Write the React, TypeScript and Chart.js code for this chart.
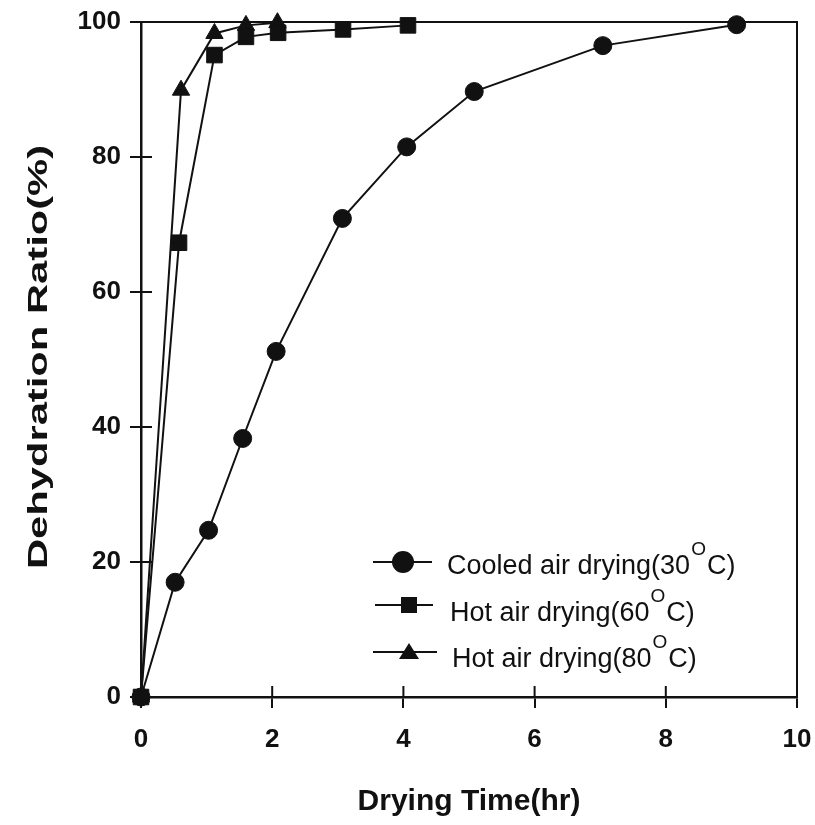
import React, { useEffect, useRef } from "react";
import { Chart, registerables } from "chart.js";

Chart.register(...registerables);

const cooledX = [0, 0.52, 1.03, 1.55, 2.06, 3.07, 4.05, 5.08, 7.04, 9.08];
const cooledY = [0, 17.0, 24.7, 38.3, 51.2, 70.9, 81.5, 89.7, 96.5, 99.6];
const hot60X = [0, 0.58, 1.12, 1.6, 2.09, 3.08, 4.07];
const hot60Y = [0, 67.3, 95.1, 97.8, 98.4, 98.9, 99.5];
const hot80X = [0, 0.61, 1.12, 1.6, 2.08];
const hot80Y = [0, 89.9, 98.3, 99.5, 99.9];

const legendNames = ["Cooled air drying(", "Hot air drying(", "Hot air drying("];
const legendTemps = ["30", "60", "80"];
const xTickValues = [0, 2, 4, 6, 8, 10];
const yTickValues = [0, 20, 40, 60, 80, 100];
const xTitle = "Drying Time(hr)";
const yTitle = "Dehydration Ratio(%)";

const FONT = '"Liberation Sans", Arial, sans-serif';
const INK = "#111";

function pts(xs: number[], ys: number[]) {
  return xs.map((x, i) => ({ x, y: ys[i] }));
}

const decorPlugin = {
  id: "decor",
  beforeDatasetsDraw(chart: any) {
    const { ctx, chartArea: ca, scales } = chart;
    ctx.save();
    ctx.strokeStyle = INK;
    ctx.lineWidth = 2;
    ctx.beginPath();
    yTickValues.forEach((v) => {
      const py = scales.y.getPixelForValue(v);
      ctx.moveTo(ca.left, py);
      ctx.lineTo(ca.left + 11, py);
    });
    xTickValues.forEach((v) => {
      const px = scales.x.getPixelForValue(v);
      ctx.moveTo(px, ca.bottom);
      ctx.lineTo(px, ca.bottom - 11);
    });
    ctx.moveTo(ca.left, ca.top);
    ctx.lineTo(ca.right, ca.top);
    ctx.lineTo(ca.right, ca.bottom);
    ctx.stroke();
    ctx.restore();
  },
  afterDraw(chart: any) {
    const { ctx, chartArea: ca } = chart;
    ctx.save();
    ctx.fillStyle = INK;
    ctx.font = `bold 30px ${FONT}`;
    ctx.textAlign = "center";
    ctx.textBaseline = "alphabetic";
    ctx.fillText(xTitle, (ca.left + ca.right) / 2, 810);
    ctx.save();
    ctx.translate(47, 357);
    ctx.rotate(-Math.PI / 2);
    ctx.scale(1.49, 1);
    ctx.font = `bold 28px ${FONT}`;
    ctx.fillText(yTitle, 0, 0);
    ctx.restore();

    const rows = [
      { y: 562, x1: 373, x2: 432, mx: 403, tx: 447, tb: 574, style: "circle" },
      { y: 605, x1: 375, x2: 433, mx: 409, tx: 450, tb: 621, style: "rect" },
      { y: 652, x1: 373, x2: 437, mx: 409, tx: 452, tb: 667, style: "triangle" },
    ];
    rows.forEach((r, i) => {
      ctx.strokeStyle = INK;
      ctx.lineWidth = 2;
      ctx.beginPath();
      ctx.moveTo(r.x1, r.y);
      ctx.lineTo(r.x2, r.y);
      ctx.stroke();
      ctx.fillStyle = INK;
      ctx.beginPath();
      if (r.style === "circle") {
        ctx.arc(r.mx, r.y, 11, 0, Math.PI * 2);
      } else if (r.style === "rect") {
        ctx.rect(r.mx - 8, r.y - 8, 16, 16);
      } else {
        ctx.moveTo(r.mx, r.y - 9);
        ctx.lineTo(r.mx + 10, r.y + 7);
        ctx.lineTo(r.mx - 10, r.y + 7);
        ctx.closePath();
      }
      ctx.fill();
      ctx.textAlign = "left";
      ctx.textBaseline = "alphabetic";
      ctx.font = `27px ${FONT}`;
      const main = legendNames[i] + legendTemps[i];
      ctx.fillText(main, r.tx, r.tb);
      let cx = r.tx + ctx.measureText(main).width + 1;
      ctx.font = `19px ${FONT}`;
      ctx.fillText("O", cx, r.tb - 19);
      cx += ctx.measureText("O").width + 1;
      ctx.font = `27px ${FONT}`;
      ctx.fillText("C)", cx, r.tb);
    });
    ctx.restore();
  },
};

export default function App() {
  const ref = useRef<HTMLCanvasElement>(null);
  useEffect(() => {
    document.body.style.margin = "0";
    const common = {
      borderColor: INK,
      backgroundColor: INK,
      pointBackgroundColor: INK,
      pointBorderColor: INK,
      borderWidth: 2,
      pointBorderWidth: 1,
      tension: 0,
      fill: false,
      clip: false as any,
    };
    const chart = new Chart(ref.current!, {
      type: "line",
      data: {
        datasets: [
          { ...common, label: "Cooled air drying(30°C)", data: pts(cooledX, cooledY), pointStyle: "circle", pointRadius: 9 },
          { ...common, label: "Hot air drying(60°C)", data: pts(hot60X, hot60Y), pointStyle: "rect", pointRadius: 11 },
          { ...common, label: "Hot air drying(80°C)", data: pts(hot80X, hot80Y), pointStyle: "triangle", pointRadius: 10 },
        ],
      },
      options: {
        animation: false,
        responsive: false,
        events: [],
        layout: { padding: { top: 22, right: 18, left: 0, bottom: 0 } },
        plugins: { legend: { display: false }, tooltip: { enabled: false } },
        scales: {
          x: {
            type: "linear",
            min: 0,
            max: 10,
            afterFit: (s: any) => { s.height = 128; s.paddingLeft = 0; s.paddingRight = 0; },
            afterBuildTicks: (s: any) => { s.ticks = xTickValues.map((v) => ({ value: v })); },
            ticks: { color: INK, font: { family: FONT, size: 26, weight: "bold" }, padding: 16, maxRotation: 0 },
            grid: { drawOnChartArea: false, drawTicks: true, tickLength: 11, color: INK, lineWidth: 2 },
            border: { display: true, color: INK, width: 2.5 },
          },
          y: {
            type: "linear",
            min: 0,
            max: 100,
            afterFit: (s: any) => { s.width = 141; s.paddingTop = 0; s.paddingBottom = 0; },
            afterBuildTicks: (s: any) => { s.ticks = yTickValues.map((v) => ({ value: v })); },
            ticks: { color: INK, font: { family: FONT, size: 26, weight: "bold" }, padding: 9 },
            grid: { drawOnChartArea: false, drawTicks: true, tickLength: 11, color: INK, lineWidth: 2 },
            border: { display: true, color: INK, width: 2.5 },
          },
        },
      } as any,
      plugins: [decorPlugin],
    });
    return () => chart.destroy();
  }, []);
  return (
    <div style={{ width: 815, height: 825 }}>
      <canvas ref={ref} width={815} height={825} />
    </div>
  );
}
